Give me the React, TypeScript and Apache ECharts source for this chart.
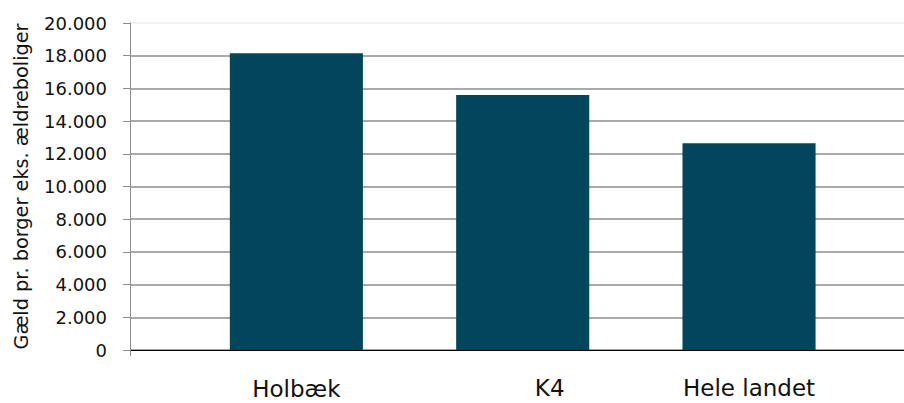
import React, { useEffect, useRef } from "react";
import * as echarts from "echarts";

const categories = ["Holbæk", "K4", "Hele landet"];
const debtPerCitizen = [18150, 15600, 12650];
const yAxisTitle = "Gæld pr. borger eks. ældreboliger";
const yMin = 0;
const yMax = 20000;
const yStep = 2000;

const fmt = (v: number) => String(Math.round(v)).replace(/\B(?=(\d{3})+(?!\d))/g, ".");

export default function App() {
  const ref = useRef<HTMLDivElement>(null);
  useEffect(() => {
    document.body.style.margin = "0";
    if (!ref.current) return;
    const chart = echarts.init(ref.current, null, { renderer: "svg" });
    const labelStyles = [
      { padding: [1, 0, 0, 0] },
      { padding: [0, 0, 0, 54] },
      {},
    ];
    const gridColors: string[] = [];
    for (let v = yMin; v <= yMax; v += yStep) gridColors.push(v === yMax ? "#ececec" : "#8c8c8c");
    chart.setOption({
      animation: false,
      grid: [
        { left: 130, right: -10, top: 23, bottom: 53, containLabel: false, outerBoundsMode: "none" },
        { left: 183.2, width: 679, top: 23, bottom: 53, containLabel: false, outerBoundsMode: "none" },
      ],
      xAxis: [
        {
          gridIndex: 0,
          type: "value",
          min: 0,
          max: 1,
          interval: 1,
          axisLine: { show: true, lineStyle: { color: "#000000", width: 1 } },
          axisTick: { show: true, length: 6, lineStyle: { color: "#8c8c8c" } },
          axisLabel: { show: false },
          splitLine: { show: false },
        },
        {
          gridIndex: 1,
          type: "category",
          data: categories.map((c, i) => ({ value: c, textStyle: labelStyles[i] })),
          axisLine: { show: false },
          axisTick: { show: false },
          axisLabel: {
            margin: 28,
            fontFamily: "DejaVu Sans",
            fontSize: 23,
            lineHeight: 20,
            color: "#111111",
            interval: 0,
          },
        },
      ],
      yAxis: [
        {
          gridIndex: 0,
          type: "value",
          min: yMin,
          max: yMax,
          interval: yStep,
          name: yAxisTitle,
          nameLocation: "middle",
          nameRotate: 90,
          nameGap: 99,
          nameTextStyle: { fontFamily: "DejaVu Sans", fontSize: 19.3, color: "#111111" },
          axisLine: { show: true, lineStyle: { color: "#8c8c8c", width: 1 } },
          axisTick: { show: true, length: 7, lineStyle: { color: "#8c8c8c" } },
          axisLabel: {
            margin: 23,
            fontFamily: "DejaVu Sans",
            fontSize: 18,
            color: "#111111",
            formatter: (v: number) => fmt(v),
          },
          splitLine: { show: true, lineStyle: { color: gridColors, width: 1.6 } },
        },
        {
          gridIndex: 1,
          type: "value",
          min: yMin,
          max: yMax,
          interval: yStep,
          show: false,
          splitLine: { show: false },
        },
      ],
      series: [
        {
          type: "bar",
          xAxisIndex: 1,
          yAxisIndex: 1,
          data: debtPerCitizen,
          barCategoryGap: "41.2%",
          itemStyle: { color: "#03455B" },
        },
      ],
    });
    return () => chart.dispose();
  }, []);
  return <div ref={ref} style={{ width: 904, height: 403 }} />;
}
